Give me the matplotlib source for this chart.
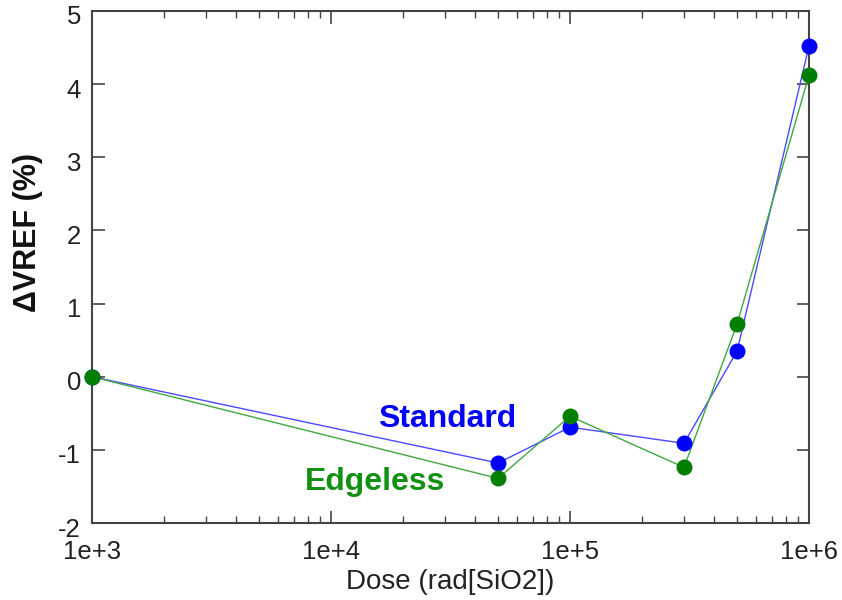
import matplotlib
matplotlib.use("Agg")
import matplotlib.pyplot as plt
import matplotlib.transforms as mtransforms
from matplotlib.ticker import LogLocator, FixedLocator, NullFormatter

dose = [1e3, 5e4, 1e5, 3e5, 5e5, 1e6]
standard = [0.0, -1.18, -0.69, -0.91, 0.35, 4.52]
edgeless = [0.0, -1.39, -0.54, -1.24, 0.72, 4.12]
x_ticks = [1e3, 1e4, 1e5, 1e6]
x_tick_labels = ["1e+3", "1e+4", "1e+5", "1e+6"]
y_ticks = [-2, -1, 0, 1, 2, 3, 4, 5]

fig = plt.figure(figsize=(8.42, 6.0), dpi=100)
ax = fig.add_axes([0.1093, 0.1283, 0.8515, 0.8534])

ax.plot(dose, standard, color="#4a4aff", lw=1.0, zorder=2)
ax.plot(dose, edgeless, color="#40a840", lw=1.0, zorder=2)
ax.plot(dose, standard, "o", color="#0000ff", ms=11.5, mec="none", zorder=3, clip_on=False)
ax.plot(dose, edgeless, "o", color="#007f00", ms=11.5, mec="none", zorder=3, clip_on=False)

ax.set_xscale("log")
ax.set_xlim(1e3, 1e6)
ax.set_ylim(-2, 5)
ax.xaxis.set_major_locator(FixedLocator(x_ticks))
ax.set_xticklabels(x_tick_labels)
ax.xaxis.set_minor_locator(LogLocator(base=10, subs=range(2, 10)))
ax.xaxis.set_minor_formatter(NullFormatter())
ax.set_yticks(y_ticks)
ax.set_yticklabels([str(v) for v in y_ticks])

ax.tick_params(which="major", direction="in", length=9, width=1.2, color="#444444",
               top=True, right=True)
ax.tick_params(axis="x", which="major", pad=12)
ax.tick_params(axis="y", which="major", pad=8)
ax.tick_params(which="minor", direction="in", length=5, width=1.0, color="#444444",
               top=True, right=True)
for s in ax.spines.values():
    s.set_color("#444444")
    s.set_linewidth(1.5)

for lab in ax.get_xticklabels() + ax.get_yticklabels():
    lab.set_fontfamily("Liberation Sans")
    lab.set_fontsize(18.5)
    lab.set_color("#222222")

# y tick labels sit slightly below their ticks
shift = mtransforms.ScaledTranslation(0, -4 / 100, fig.dpi_scale_trans)
for lab in ax.get_yticklabels():
    lab.set_transform(lab.get_transform() + shift)

ax.set_xlabel("Dose (rad[SiO2])", family="Liberation Sans", fontsize=20,
              color="#222222", labelpad=4)
fig.text(28 / 842, 1 - 233 / 600, "ΔVREF (%)", family="Liberation Sans", fontsize=22,
         fontweight="bold", color="#111111", rotation=90, ha="center", va="center")

ax.text(3.07e4, -0.69, "Standard", color="#0000ff", fontsize=23, fontweight="bold",
        family="Liberation Sans", ha="center", va="baseline")
ax.text(1.53e4, -1.55, "Edgeless", color="#119011", fontsize=23, fontweight="bold",
        family="Liberation Sans", ha="center", va="baseline")

fig.savefig("out.png", dpi=100, facecolor="white")
